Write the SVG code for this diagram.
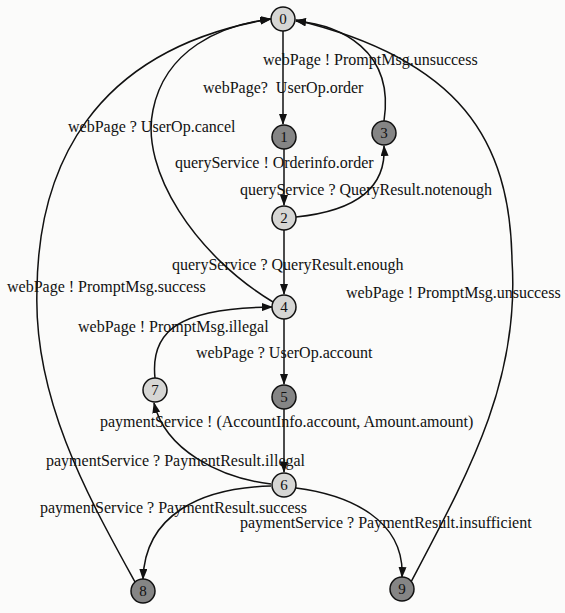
<svg xmlns="http://www.w3.org/2000/svg" width="565" height="613" viewBox="0 0 565 613">
<style>
.bg{fill:#fbfbfa}
.n circle{stroke:#111;stroke-width:1.5}
.lt{fill:#d6d6d4}
.dk{fill:#858585}
.n text{font-family:"Liberation Serif",serif;font-size:15px;fill:#111;text-anchor:middle}
.e path{fill:none;stroke:#111;stroke-width:1.5;marker-end:url(#ah)}
.lbl text{font-family:"Liberation Serif",serif;font-size:16px;fill:#111}
</style>
<defs>
<marker id="ah" markerUnits="userSpaceOnUse" markerWidth="11" markerHeight="8" refX="10" refY="4" orient="auto">
<path d="M0,0 L11,4 L0,8 z" fill="#111"/>
</marker>
</defs>
<rect class="bg" x="0" y="0" width="565" height="613"/>
<g id="connectors" class="e">
<path d="M283,31 V124"/>
<path d="M284,149 V205"/>
<path d="M284,230 V294"/>
<path d="M284,319 V384"/>
<path d="M284,409 V472"/>
<path d="M296,217 C345,212 387,195 384,146"/>
<path d="M384,121 C395,50 340,25 296,21"/>
<path d="M411,582 C470,470 520,380 512,260 C510,140 460,60 296,20"/>
<path d="M135,582 C90,500 33,400 37,290 C38,170 90,50 270,19"/>
<path d="M273,302 C195,255 140,170 153,110 C165,50 220,25 271,19"/>
<path d="M155,378 C150,330 180,308 272,307"/>
<path d="M271,484 C220,478 165,450 154,403"/>
<path d="M271,486 C200,488 145,515 143,579"/>
<path d="M296,488 C350,495 405,520 402,577"/>
</g>
<g id="labels" class="lbl">
<text x="263" y="65">webPage ! PromptMsg.unsuccess</text>
<text x="203" y="93">webPage?&#160; UserOp.order</text>
<text x="68" y="132">webPage ? UserOp.cancel</text>
<text x="175" y="168">queryService ! Orderinfo.order</text>
<text x="240" y="195">queryService ? QueryResult.notenough</text>
<text x="172" y="270">queryService ? QueryResult.enough</text>
<text x="7" y="292">webPage ! PromptMsg.success</text>
<text x="346" y="298">webPage ! PromptMsg.unsuccess</text>
<text x="78" y="332">webPage ! PromptMsg.illegal</text>
<text x="196" y="358">webPage ? UserOp.account</text>
<text x="100" y="427">paymentService ! (AccountInfo.account, Amount.amount)</text>
<text x="46" y="466">paymentService ? PaymentResult.illegal</text>
<text x="40" y="513">paymentService ? PaymentResult.success</text>
<text x="240" y="528">paymentService ? PaymentResult.insufficient</text>
</g>
<g id="n0" class="n"><circle class="lt" cx="283" cy="19" r="12"/><text x="283" y="24">0</text></g>
<g id="n1" class="n"><circle class="dk" cx="284" cy="137" r="12"/><text x="284" y="142">1</text></g>
<g id="n2" class="n"><circle class="lt" cx="284" cy="218" r="12"/><text x="284" y="223">2</text></g>
<g id="n3" class="n"><circle class="dk" cx="384" cy="133" r="12"/><text x="384" y="138">3</text></g>
<g id="n4" class="n"><circle class="lt" cx="284" cy="307" r="12"/><text x="284" y="312">4</text></g>
<g id="n5" class="n"><circle class="dk" cx="284" cy="397" r="12"/><text x="284" y="402">5</text></g>
<g id="n6" class="n"><circle class="lt" cx="284" cy="485" r="12"/><text x="284" y="490">6</text></g>
<g id="n7" class="n"><circle class="lt" cx="155" cy="390" r="12"/><text x="155" y="395">7</text></g>
<g id="n8" class="n"><circle class="dk" cx="143" cy="591" r="12"/><text x="143" y="596">8</text></g>
<g id="n9" class="n"><circle class="dk" cx="402" cy="589" r="12"/><text x="402" y="594">9</text></g>
</svg>
